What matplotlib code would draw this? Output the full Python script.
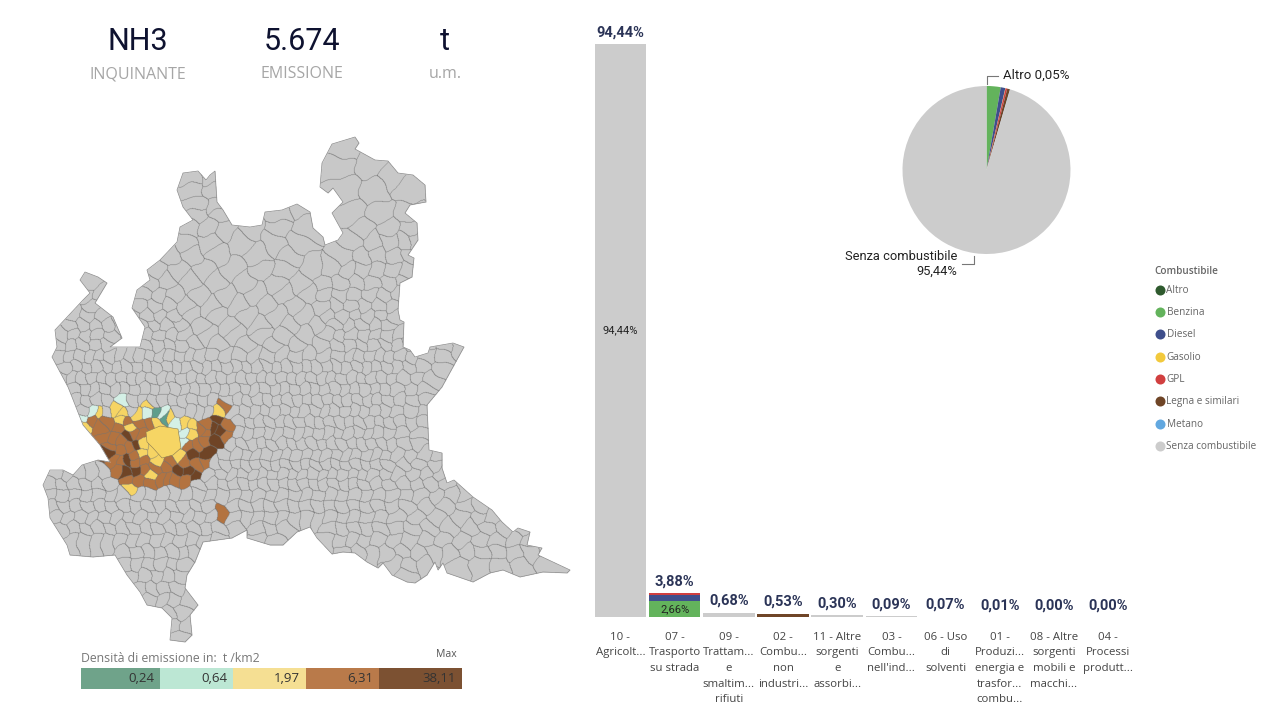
import numpy as np
import matplotlib
matplotlib.use("Agg")
import matplotlib.pyplot as plt
from matplotlib.path import Path
from matplotlib.patches import Polygon

# KPI header
KPI_VALUES = ["NH3", "5.674", "t"]
KPI_LABELS = ["INQUINANTE", "EMISSIONE", "u.m."]

# bar chart
SECTORS = ["10 -\nAgricolt...", "07 -\nTrasporto\nsu strada", "09 -\nTrattam...\ne\nsmaltim...\nrifiuti",
           "02 -\nCombu...\nnon\nindustri...", "11 - Altre\nsorgenti\ne\nassorbi...", "03 -\nCombu...\nnell'ind...",
           "06 - Uso\ndi\nsolventi", "01 -\nProduzi...\nenergia e\ntrasfor...\ncombu...",
           "08 - Altre\nsorgenti\nmobili e\nmacchi...", "04 -\nProcessi\nprodutt..."]
SECTOR_TOTALS = [94.44, 3.88, 0.68, 0.53, 0.30, 0.09, 0.07, 0.01, 0.00, 0.00]
BENZINA = [0, 2.66, 0, 0, 0, 0, 0, 0, 0, 0]
DIESEL = [0, 0.90, 0, 0, 0, 0, 0, 0, 0, 0]
GPL = [0, 0.32, 0, 0, 0, 0, 0, 0, 0, 0]
LEGNA = [0, 0, 0, 0.53, 0, 0, 0, 0, 0, 0]
SENZA = [94.44, 0, 0.68, 0, 0.30, 0.09, 0.07, 0.01, 0, 0]

# pie + legend
FUELS = ["Altro", "Benzina", "Diesel", "Gasolio", "GPL", "Legna e similari", "Metano", "Senza combustibile"]
FUEL_SHARE = [0.05, 2.66, 0.90, 0.05, 0.32, 0.53, 0.05, 95.44]
FUEL_COLORS = ["#2f5a2e", "#63b35c", "#3f4f8c", "#f2c93c", "#d13f3f", "#6f4527", "#62a8e0", "#cccccc"]

# density classes
CLASS_VALUES = ["0,24", "0,64", "1,97", "6,31", "38,11"]
CLASS_BAR_COLORS = ["#6fa38a", "#bce7d4", "#f5df93", "#b97a4a", "#7c5132"]
CLASS_MAP_COLORS = ["#c9c9c9", "#5f9f8c", "#d5f0e6", "#f6d564", "#b47340", "#6f4526"]

# map: region outline, traced in picture pixels
OUTLINE_X = [183, 198, 206, 210, 215, 217, 223, 232, 250, 262, 265, 282, 297, 310, 313, 323, 325, 338, 343, 332, 343,
             333, 328, 320, 322, 332, 355, 359, 355, 375, 388, 398, 413, 425, 426, 410, 405, 417, 418, 408, 414, 412,
             400, 398, 400, 404, 403, 410, 415, 428, 430, 453, 464, 442, 427, 429, 442, 442, 447, 454, 473, 492, 502,
             513, 518, 530, 527, 542, 538, 570, 567, 543, 520, 503, 490, 473, 447, 443, 438, 435, 427, 415, 407, 392,
             383, 378, 367, 355, 343, 332, 317, 310, 297, 283, 270, 247, 247, 232, 203, 195, 187, 185, 198, 190, 192,
             185, 170, 172, 162, 147, 140, 127, 115, 93, 70, 67, 50, 48, 43, 50, 63, 73, 82, 98, 110, 100, 83, 72, 68,
             52, 57, 55, 83, 90, 80, 85, 98, 107, 95, 113, 122, 110, 130, 140, 145, 132, 137, 150, 147, 160, 177, 180,
             193, 183, 177]
OUTLINE_Y = [173, 171, 180, 175, 171, 202, 210, 225, 227, 225, 212, 210, 204, 212, 228, 237, 245, 240, 233, 213, 202,
             188, 193, 187, 163, 144, 137, 143, 149, 160, 161, 173, 175, 185, 202, 205, 213, 223, 240, 255, 258, 277,
             283, 310, 320, 322, 347, 350, 357, 353, 347, 343, 347, 387, 405, 450, 453, 468, 483, 480, 497, 510, 522,
             532, 528, 532, 545, 548, 555, 570, 573, 572, 577, 570, 573, 582, 573, 563, 570, 562, 575, 583, 582, 575,
             563, 568, 562, 553, 552, 554, 538, 527, 532, 545, 545, 538, 530, 538, 542, 562, 575, 588, 605, 615, 635,
             642, 640, 618, 608, 605, 592, 575, 555, 557, 555, 545, 518, 498, 485, 470, 470, 475, 465, 460, 462, 445,
             425, 397, 387, 357, 347, 330, 300, 293, 280, 272, 277, 283, 303, 317, 338, 347, 347, 347, 327, 308, 290,
             280, 270, 260, 242, 227, 220, 207, 190]

# municipality centres outside the coloured area, row by row (y: x positions)
GREY_ROWS = {
    150: [344], 165: [340, 372], 177: [190, 213, 392], 190: [192, 215, 345, 375, 408],
    205: [195, 218, 300], 214: [197, 222, 280, 352, 380, 408], 228: [190, 208, 225, 250, 280, 305, 362, 388, 410],
    242: [185, 208, 240, 275, 298, 352, 372, 390, 405, 415],
    256: [170, 192, 218, 258, 290, 345, 362, 378, 395, 410],
    270: [155, 178, 204, 232, 262, 284, 312, 332, 348, 362, 378, 392, 408],
    283: [90, 150, 165, 190, 216, 244, 276, 300, 324, 340, 356, 372, 388, 405],
    295: [88, 100, 145, 160, 175, 200, 226, 256, 285, 310, 325, 340, 355, 370, 385, 400],
    306: [92, 140, 154, 168, 184, 210, 238, 266, 294, 322, 336, 350, 364, 378, 392],
    316: [75, 88, 102, 135, 148, 161, 174, 192, 218, 248, 278, 305, 330, 343, 356, 369, 382, 394],
    325: [70, 82, 95, 108, 118, 140, 153, 166, 179, 200, 228, 258, 288, 316, 335, 348, 361, 374, 387],
    335: [62, 74, 86, 98, 110, 136, 148, 160, 172, 184, 208, 236, 262, 284, 306, 328, 340, 352, 364, 376, 388, 398],
    345: [58, 70, 82, 94, 106, 145, 157, 169, 181, 193, 217, 245, 272, 297, 322, 337, 349, 361, 373, 385, 397, 410, 425, 445, 458],
    356: [60, 70, 80, 90, 100, 110, 120, 130, 140, 150, 160, 170, 180, 190, 200, 212, 226, 240, 254, 268, 282, 296, 310, 324, 340, 350, 360, 370, 380, 390, 400, 412, 428, 442],
    367: [65, 76, 86, 96, 106, 116, 126, 136, 146, 156, 166, 176, 186, 196, 206, 216, 226, 236, 246, 256, 266, 276, 286, 296, 306, 316, 326, 336, 346, 356, 366, 376, 386, 396, 408, 422, 438],
    378: [62, 72, 82, 92, 102, 112, 122, 132, 142, 152, 162, 172, 182, 192, 202, 212, 222, 232, 242, 252, 262, 272, 282, 292, 302, 312, 322, 332, 342, 352, 362, 372, 382, 392, 404, 418, 430],
    389: [74, 84, 94, 104, 114, 124, 134, 144, 154, 164, 174, 184, 194, 204, 214, 224, 234, 244, 254, 264, 274, 284, 294, 304, 314, 324, 334, 344, 354, 364, 374, 384, 396, 410, 424],
    400: [76, 87, 97, 107, 133, 143, 153, 163, 173, 183, 193, 203, 213, 228, 238, 248, 258, 268, 278, 288, 298, 308, 318, 328, 338, 348, 358, 368, 378, 388, 400, 414, 425],
    411: [82, 106, 130, 178, 190, 200, 208, 234, 244, 254, 264, 274, 284, 294, 304, 314, 324, 334, 344, 354, 364, 374, 384, 396, 410, 424],
    422: [240, 250, 260, 270, 280, 290, 300, 310, 320, 330, 340, 350, 360, 370, 380, 390, 400, 412, 424],
    433: [238, 248, 258, 268, 278, 288, 298, 308, 318, 328, 338, 348, 358, 368, 378, 388, 400, 420],
    444: [232, 242, 252, 262, 272, 282, 292, 302, 312, 322, 332, 342, 352, 362, 372, 382, 392, 404, 418],
    455: [225, 236, 246, 256, 266, 276, 286, 296, 306, 316, 326, 336, 346, 356, 366, 376, 386, 396, 410, 425, 436],
    465: [215, 226, 236, 246, 256, 266, 276, 286, 296, 306, 316, 326, 336, 346, 356, 366, 376, 388, 404, 420, 435],
    474: [55, 67, 79, 91, 103, 208, 220, 232, 242, 252, 262, 272, 282, 292, 302, 312, 322, 332, 342, 352, 362, 372, 384, 398, 412, 426, 440],
    484: [50, 62, 74, 86, 98, 110, 200, 212, 224, 234, 244, 254, 264, 274, 284, 294, 304, 314, 324, 334, 344, 354, 364, 376, 390, 404, 418, 432, 445],
    495: [50, 62, 74, 86, 98, 110, 122, 138, 150, 162, 174, 186, 198, 210, 222, 234, 246, 258, 270, 282, 294, 306, 318, 330, 342, 354, 366, 378, 392, 406, 420, 436, 452, 464],
    506: [52, 64, 76, 88, 100, 112, 124, 136, 148, 160, 172, 184, 196, 208, 234, 246, 258, 270, 282, 294, 306, 318, 330, 342, 354, 366, 378, 392, 408, 426, 446, 466, 480],
    517: [56, 68, 80, 92, 104, 116, 128, 140, 152, 164, 176, 188, 200, 210, 234, 246, 258, 270, 282, 294, 306, 318, 330, 342, 354, 366, 380, 396, 416, 436, 460, 478, 494],
    528: [62, 74, 86, 98, 110, 122, 134, 146, 158, 170, 182, 194, 206, 218, 236, 258, 270, 284, 330, 342, 354, 366, 380, 396, 412, 430, 450, 470, 488, 504, 520],
    540: [72, 84, 96, 108, 120, 132, 144, 156, 168, 180, 192, 204, 218, 258, 275, 328, 340, 352, 364, 378, 394, 410, 426, 444, 462, 480, 498, 514, 530],
    552: [124, 136, 148, 160, 172, 184, 192, 345, 358, 372, 386, 402, 418, 434, 450, 466, 482, 498, 514, 530, 548],
    564: [125, 137, 149, 161, 173, 183, 395, 410, 424, 460, 480, 500, 522, 548],
    576: [132, 144, 156, 168, 180, 405],
    588: [140, 152, 164, 176], 600: [150, 162, 174, 188], 612: [168, 182], 626: [176, 186], 636: [180],
}

# municipality centres inside the coloured area
TEAL_X = [155, 167]
TEAL_Y = [412, 418]
MINT_X = [83, 93, 123, 147, 162, 176, 185, 185]
MINT_Y = [418, 412, 400, 413, 413, 423, 433, 441]
YELLOW_X = [85, 98, 115, 123, 122, 138, 147, 130, 170, 157, 185, 192, 191, 217, 142, 140, 152, 158, 177, 150, 130]
YELLOW_Y = [425, 413, 408, 415, 420, 415, 405, 427, 418, 423, 423, 427, 435, 412, 445, 453, 452, 460, 457, 475, 487]
BROWN_X = [92, 100, 108, 118, 128, 140, 150, 105, 114, 122, 132, 142, 110, 119, 129, 135, 115, 122, 135, 145, 118, 145,
           155, 128, 140, 150, 162, 165, 172, 185, 198, 205, 188, 197, 205, 200, 208, 205, 225, 228, 225, 168, 175, 185, 222]
BROWN_Y = [420, 428, 422, 428, 422, 425, 425, 438, 438, 442, 432, 433, 446, 450, 447, 455, 460, 462, 462, 462, 470, 470,
           468, 480, 480, 482, 478, 468, 462, 462, 465, 463, 445, 445, 440, 430, 425, 432, 405, 425, 435, 478, 478, 480, 514]
DARK_X = [108, 128, 138, 128, 125, 135, 178, 187, 195, 193, 205, 217, 213, 220, 217]
DARK_Y = [452, 435, 445, 460, 473, 470, 470, 472, 476, 455, 453, 420, 428, 432, 440]
# Milano, bigger than any centre-based cell
MILANO_X = [146, 160, 178, 181, 173, 162, 153, 147]
MILANO_Y = [432, 426, 429, 448, 455, 458, 448, 442]


def px(x0, y0, x1, y1):
    # picture pixels (y down) to a figure rectangle
    return [x0 / 1280, 1 - y1 / 720, (x1 - x0) / 1280, (y1 - y0) / 720]


plt.rcParams["font.family"] = ["Open Sans", "DejaVu Sans"]
fig = plt.figure(figsize=(12.8, 7.2), dpi=100)

# overlay in pixel coords for map, KPI cards and legends
bg = fig.add_axes([0, 0, 1, 1])
bg.set_xlim(0, 1280)
bg.set_ylim(720, 0)
bg.axis("off")

for x, val, lab in zip([138, 302, 445], KPI_VALUES, KPI_LABELS):
    bg.text(x, 41, val, ha="center", va="center", fontsize=22, color="#0e1230", family="Roboto")
    bg.text(x, 74.5, lab, ha="center", va="center", fontsize=11.5, color="#a6a6a6")

# --- map: nearest centre gives each pixel its municipality ---
seed_x, seed_y, seed_c = [], [], []
for y, xs in GREY_ROWS.items():
    for x in xs:
        seed_x.append(x)
        seed_y.append(y)
        seed_c.append(0)
for cls, (xs, ys) in enumerate([(TEAL_X, TEAL_Y), (MINT_X, MINT_Y), (YELLOW_X, YELLOW_Y),
                                (BROWN_X, BROWN_Y), (DARK_X, DARK_Y)], start=1):
    seed_x += xs
    seed_y += ys
    seed_c += [cls] * len(xs)
seed_c = np.array(seed_c)

step = 0.5
gx, gy = np.meshgrid(np.arange(36, 576, step, dtype=np.float32), np.arange(132, 646, step, dtype=np.float32))
# wobble so the borders do not look straight
qx = gx + 1.3 * np.sin(gy / 3.3) + 0.8 * np.sin((gx + gy) / 5.1)
qy = gy + 1.3 * np.sin(gx / 3.7) + 0.8 * np.sin((gx - gy) / 4.3)
best = np.full(gx.shape, 1e9, dtype=np.float32)
label = np.zeros(gx.shape, dtype=np.int32)
for i, (sx, sy) in enumerate(zip(seed_x, seed_y)):
    d = (qx - sx) ** 2 + (qy - sy) ** 2
    m = d < best
    best[m] = d[m]
    label[m] = i

outline = np.column_stack([OUTLINE_X, OUTLINE_Y])
inside = Path(outline).contains_points(np.column_stack([gx.ravel(), gy.ravel()])).reshape(gx.shape)

map_rgb = np.array([matplotlib.colors.to_rgb(c) for c in CLASS_MAP_COLORS])
img = np.ones(gx.shape + (4,))
img[..., :3] = map_rgb[seed_c[label]]
edge = np.zeros(gx.shape, dtype=bool)
edge[:-1, :] |= label[:-1, :] != label[1:, :]
edge[:, :-1] |= label[:, :-1] != label[:, 1:]
img[edge, :3] = matplotlib.colors.to_rgb("#737373")
img[..., 3] = inside
bg.imshow(img, extent=(36, 576, 646, 132), interpolation="antialiased", aspect="auto", zorder=1)
bg.set_xlim(0, 1280)
bg.set_ylim(720, 0)
bg.add_patch(Polygon(outline, closed=True, fill=False, edgecolor="#8a8a8a", lw=0.5, zorder=2))
bg.add_patch(Polygon(np.column_stack([MILANO_X, MILANO_Y]), closed=True, facecolor=CLASS_MAP_COLORS[3],
                     edgecolor="#8a7a50", lw=0.4, zorder=2))

# --- density scale ---
bg.text(81, 658, "Densità di emissione in:  t /km2", ha="left", va="center", fontsize=8.8, color="#777777")
bg.text(457, 654.5, "Max", ha="right", va="center", fontsize=7.5, color="#555555")
edges = [81, 160, 233, 306, 379, 462]
for i, (val, col) in enumerate(zip(CLASS_VALUES, CLASS_BAR_COLORS)):
    bg.barh(678.5, edges[i + 1] - edges[i], left=edges[i], height=20.5, color=col, zorder=1)
    bg.text(edges[i + 1] - 6, 679, val, ha="right", va="center", fontsize=9.5, color="#333333", zorder=2)

# --- stacked bars ---
ax = fig.add_axes(px(593.3, 44, 1135.3, 617))
pos = np.arange(len(SECTORS))
bottom = np.zeros(len(SECTORS))
for vals, fuel in [(BENZINA, "Benzina"), (DIESEL, "Diesel"), (GPL, "GPL"), (LEGNA, "Legna e similari"),
                   (SENZA, "Senza combustibile")]:
    ax.bar(pos, vals, bottom=bottom, width=0.95, color=FUEL_COLORS[FUELS.index(fuel)])
    bottom += np.array(vals)
ax.set_xlim(-0.5, 9.5)
ax.set_ylim(0, 94.44)
ax.axis("off")
for i, (lab, tot) in enumerate(zip(SECTORS, SECTOR_TOTALS)):
    ax.annotate(f"{tot:.2f}%".replace(".", ","), (i, tot), xytext=(0, 3.5), textcoords="offset points", ha="center",
                va="bottom", fontsize=10.5, fontweight="bold", family="Roboto", color="#2b3457", annotation_clip=False)
    ax.annotate(lab, (i, 0), xytext=(0, -10.5), textcoords="offset points", ha="center", va="top", fontsize=8.2,
                color="#444444", linespacing=1.58, annotation_clip=False)
ax.text(0, SECTOR_TOTALS[0] / 2, "94,44%", ha="center", va="center", fontsize=8, color="#222222", family="Roboto")
ax.text(1, BENZINA[1] / 2, "2,66%", ha="center", va="center", fontsize=8, color="#222222", family="Roboto")

# --- pie ---
pie_ax = fig.add_axes(px(902.5, 86, 1070.5, 254))
pie_ax.pie(FUEL_SHARE, colors=FUEL_COLORS, startangle=90, counterclock=False, radius=1)
pie_ax.set_xlim(-1, 1)
pie_ax.set_ylim(-1, 1)

bg.plot([987, 987, 998], [84, 76, 76], color="#777777", lw=0.8, zorder=3)
bg.text(1003, 75.5, f"{FUELS[0]} 0,05%", ha="left", va="center", fontsize=9.5, family="Roboto", color="#222222")
bg.plot([962, 974, 974], [264, 264, 256], color="#777777", lw=0.8, zorder=3)
bg.text(957, 256.5, FUELS[-1], ha="right", va="center", fontsize=9.3, family="Roboto", color="#222222")
bg.text(957, 271.5, "95,44%", ha="right", va="center", fontsize=9.3, family="Roboto", color="#222222")

# --- fuel legend ---
bg.text(1154.5, 272, "Combustibile", ha="left", va="center", fontsize=7.2, fontweight="semibold", color="#666666")
for i, (name, col) in enumerate(zip(FUELS, FUEL_COLORS)):
    y = 289.8 + i * 22.3
    bg.scatter([1160], [y], s=52, color=col, zorder=3, linewidths=0)
    bg.text(1166.5, y + 0.5, name, ha="left", va="center", fontsize=7.2, color="#666666")

fig.savefig("out.png", dpi=100)
